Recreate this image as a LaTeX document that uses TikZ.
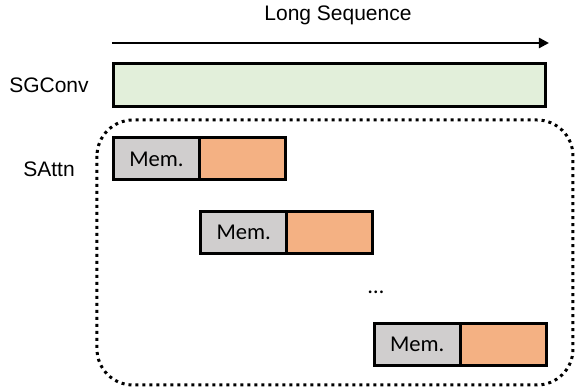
\documentclass[tikz,border=0pt]{standalone}
\usepackage{fontspec}
\setmainfont{Liberation Sans}
\newfontfamily\memfont{Carlito}
\usetikzlibrary{arrows.meta,positioning}

\definecolor{convgreen}{HTML}{E2EFDA}
\definecolor{memgray}{HTML}{D0CECE}
\definecolor{attnorange}{HTML}{F4B183}

\begin{document}
\begin{tikzpicture}[x=0.5pt,y=-0.5pt,
    every node/.style={font=\fontsize{10.5}{12}\selectfont},
    blk/.style={draw=black, line width=1.5pt, inner sep=0pt, outer sep=0pt,
      minimum height=21pt},
    membox/.style={blk, fill=memgray, minimum width=43pt, font=\memfont\fontsize{11.3}{13}\selectfont},
    attnbox/.style={blk, fill=attnorange, minimum width=43pt}]
  \useasboundingbox (0,0) rectangle (575,389);

  % sequence arrow
  \node (seq) at (338,15) {Long Sequence};
  \coordinate (seqstart) at (112,43);
  \coordinate (seqend) at (549,43);
  \draw[line width=1.2pt, -{Triangle[length=5pt,width=5pt]}] (seqstart) -- (seqend);

  % SGConv
  \node (convlabel) at (49,85) {SGConv};
  \node[blk, fill=convgreen, minimum width=216pt, minimum height=21.5pt] (sgconv) at (329.5,85) {};

  % SAttn
  \node (attnlabel) at (49,169) {SAttn};
  \draw[line width=1.5pt, dash pattern=on 1.5pt off 2pt, rounded corners=18pt]
    (97,120) rectangle (573,385);

  \node[membox] (mem1) at (156.5,159) {Mem.};
  \node[attnbox, right=0pt of mem1] (attn1) {};
  \node[membox] (mem2) at (243.7,232.5) {Mem.};
  \node[attnbox, right=0pt of mem2] (attn2) {};
  \node[font=\memfont\fontsize{11.3}{13}\selectfont] (dots) at (376,292) {…};
  \node[membox] (mem3) at (417.2,344.5) {Mem.};
  \node[attnbox, right=0pt of mem3] (attn3) {};
\end{tikzpicture}
\end{document}
